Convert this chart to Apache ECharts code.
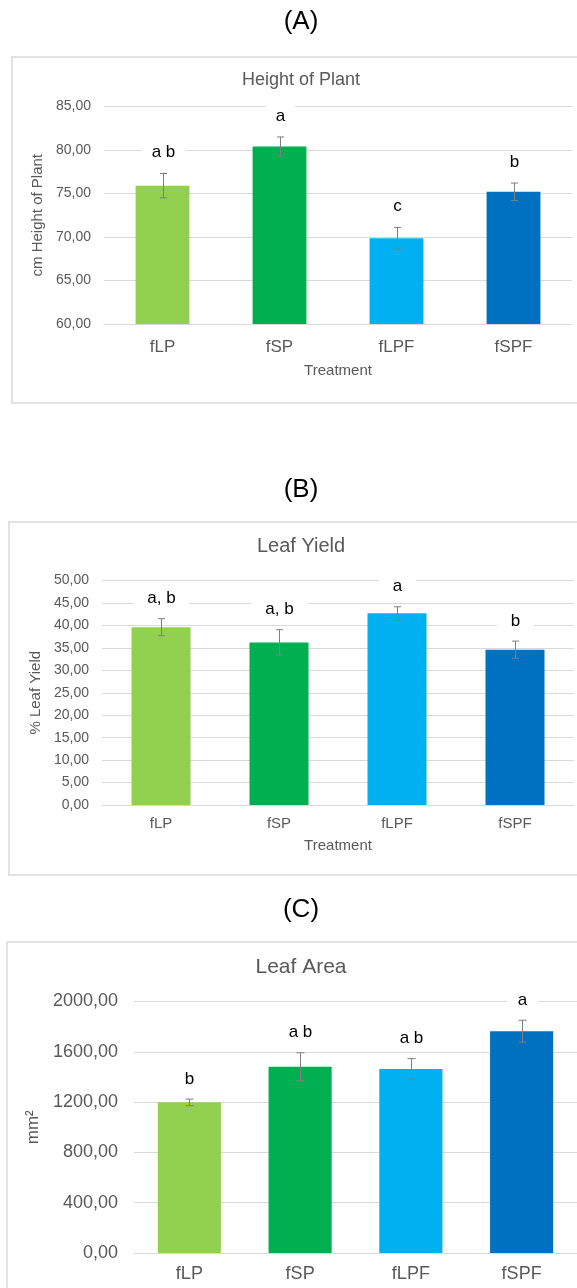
<!DOCTYPE html>
<html>
<head>
<meta charset="utf-8">
<script src="https://cdn.jsdelivr.net/npm/echarts@6/dist/echarts.min.js"></script>
<style>
  html, body { margin: 0; padding: 0; background: #fff; }
  #chart { width: 577px; height: 1288px; }
</style>
</head>
<body>
<div id="chart"></div>
<script>
// Treatments shared by all three panels
const treatments = ['fLP', 'fSP', 'fLPF', 'fSPF'];
const barColors = ['#92D050', '#00B050', '#00B0F0', '#0070C0'];

// (A) Height of plant, cm
const heightMean = [75.9, 80.4, 69.85, 75.2];
const heightErr = [1.4, 1.1, 1.25, 1.0];
const heightLetters = ['a b', 'a', 'c', 'b'];

// (B) Leaf yield, %
const yieldMean = [39.6, 36.2, 42.7, 34.6];
const yieldErr = [1.9, 2.85, 1.45, 1.9];
const yieldLetters = ['a, b', 'a, b', 'a', 'b'];

// (C) Leaf area, mm²
const areaMean = [1198, 1482, 1464, 1764];
const areaErr = [26, 110, 82, 87];
const areaLetters = ['b', 'a b', 'a b', 'a'];

const FONT = '"Liberation Sans", Arial, sans-serif';
const GREY_TEXT = '#595959';
const GRID_LINE = '#d9d9d9';
const CENTER_X = 301;

const fmt = v => v.toFixed(2).replace('.', ',');

function xAxis(idx, fontSize, margin, withName, nameGap) {
  return {
    type: 'category', gridIndex: idx, data: treatments,
    axisTick: { show: false },
    axisLine: { lineStyle: { color: GRID_LINE, width: 1 } },
    axisLabel: { color: GREY_TEXT, fontSize, fontFamily: FONT, margin },
    name: withName ? 'Treatment' : '',
    nameLocation: 'middle', nameGap,
    nameTextStyle: { color: GREY_TEXT, fontSize: 15, fontFamily: FONT }
  };
}

function yAxis(idx, min, max, interval, fontSize, margin, name, nameGap, nameSize) {
  return {
    type: 'value', gridIndex: idx, min, max, interval,
    axisLine: { show: false }, axisTick: { show: false },
    splitLine: { lineStyle: { color: GRID_LINE, width: 1 } },
    axisLabel: { color: GREY_TEXT, fontSize, fontFamily: FONT, margin, formatter: fmt },
    name, nameLocation: 'middle', nameGap, nameRotate: 90,
    nameTextStyle: { color: GREY_TEXT, fontSize: nameSize, fontFamily: FONT }
  };
}

function barSeries(idx, values, barWidth) {
  return {
    type: 'bar', xAxisIndex: idx, yAxisIndex: idx, barWidth,
    data: values.map((v, i) => ({ value: v, itemStyle: { color: barColors[i] } })),
    silent: true
  };
}

// Error bars with the significance letters drawn above each whisker
function errorSeries(idx, means, errs, letters, offset, cap, padX) {
  return {
    type: 'custom', xAxisIndex: idx, yAxisIndex: idx, z: 10, silent: true,
    data: means.map((m, i) => [i, m, errs[i]]),
    renderItem(params, api) {
      const i = api.value(0), m = api.value(1), e = api.value(2);
      const hi = api.coord([i, m + e]);
      const lo = api.coord([i, m - e]);
      const x = Math.round(hi[0]) + 0.5;
      const st = { stroke: '#7f7f7f', lineWidth: 1 };
      return {
        type: 'group',
        children: [
          { type: 'line', shape: { x1: x, y1: hi[1], x2: x, y2: lo[1] }, style: st },
          { type: 'line', shape: { x1: x - cap, y1: hi[1], x2: x + cap, y2: hi[1] }, style: st },
          { type: 'line', shape: { x1: x - cap, y1: lo[1], x2: x + cap, y2: lo[1] }, style: st },
          {
            type: 'text', x: x, y: hi[1] - offset,
            style: {
              text: letters[params.dataIndex], fill: '#000',
              font: '17px ' + FONT, align: 'center', verticalAlign: 'middle',
              backgroundColor: '#fff', padding: [2, padX]
            }
          }
        ]
      };
    }
  };
}

function heading(text, top, size, color) {
  return {
    text, left: CENTER_X, textAlign: 'center', top, padding: 0,
    textStyle: { fontSize: size, fontWeight: 'normal', color, fontFamily: FONT }
  };
}

const chart = echarts.init(document.getElementById('chart'), null, { renderer: 'canvas' });

chart.setOption({
  animation: false,
  backgroundColor: '#fff',
  title: [
    heading('(A)', 9, 26, '#000'),
    heading('Height of Plant', 71, 18, GREY_TEXT),
    heading('(B)', 477, 26, '#000'),
    heading('Leaf Yield', 536, 20, GREY_TEXT),
    heading('(C)', 897, 26, '#000'),
    heading('Leaf Area', 957, 21, GREY_TEXT)
  ],
  graphic: [
    { type: 'rect', shape: { x: 12, y: 57, width: 700, height: 346 }, style: { fill: 'none', stroke: GRID_LINE, lineWidth: 1.5 }, silent: true },
    { type: 'rect', shape: { x: 9, y: 522, width: 700, height: 353 }, style: { fill: 'none', stroke: GRID_LINE, lineWidth: 1.5 }, silent: true },
    { type: 'rect', shape: { x: 7, y: 942, width: 700, height: 500 }, style: { fill: 'none', stroke: GRID_LINE, lineWidth: 1.5 }, silent: true }
  ],
  grid: [
    { left: 104, right: 5, top: 106.5, height: 217.5 },
    { left: 102, right: 3, top: 580.5, height: 224.5 },
    { left: 134, right: 0, top: 1001.5, height: 251.5 }
  ],
  xAxis: [
    xAxis(0, 17, 15, true, 39),
    xAxis(1, 15, 11, true, 33),
    xAxis(2, 18, 12, false, 30)
  ],
  yAxis: [
    yAxis(0, 60, 85, 5, 14, 13, 'cm Height of Plant', 59, 15),
    yAxis(1, 0, 50, 5, 14, 13, '% Leaf Yield', 59, 15),
    yAxis(2, 0, 2000, 400, 18, 16, 'mm²', 87, 17)
  ],
  series: [
    barSeries(0, heightMean, '46%'),
    errorSeries(0, heightMean, heightErr, heightLetters, 21, 3.5, 10),
    barSeries(1, yieldMean, '50%'),
    errorSeries(1, yieldMean, yieldErr, yieldLetters, 20, 3.5, 14),
    barSeries(2, areaMean, '57%'),
    errorSeries(2, areaMean, areaErr, areaLetters, 20, 4, 11)
  ]
});
</script>
</body>
</html>
